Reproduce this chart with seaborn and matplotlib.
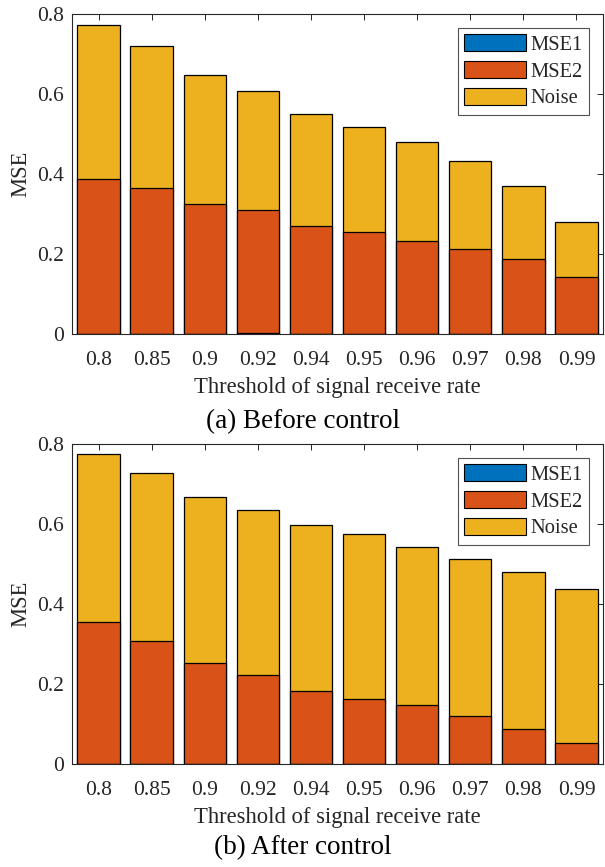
import matplotlib
matplotlib.use("Agg")
import matplotlib.pyplot as plt
from matplotlib.patches import Patch
import seaborn as sns
import pandas as pd
import numpy as np

# --- data ---
thresholds = ['0.8', '0.85', '0.9', '0.92', '0.94', '0.95', '0.96', '0.97', '0.98', '0.99']

before_mse1 = [0.001, 0.001, 0.001, 0.003, 0.001, 0.001, 0.001, 0.001, 0.001, 0.001]
before_mse2 = [0.387, 0.365, 0.323, 0.306, 0.270, 0.253, 0.231, 0.212, 0.186, 0.142]
before_noise = [0.385, 0.354, 0.324, 0.299, 0.279, 0.264, 0.247, 0.219, 0.182, 0.136]

after_mse1 = [0.001, 0.001, 0.001, 0.001, 0.001, 0.001, 0.001, 0.001, 0.001, 0.001]
after_mse2 = [0.355, 0.307, 0.251, 0.221, 0.182, 0.161, 0.147, 0.119, 0.087, 0.052]
after_noise = [0.419, 0.419, 0.416, 0.414, 0.414, 0.413, 0.394, 0.393, 0.391, 0.385]

series = ['MSE1', 'MSE2', 'Noise']
colors = {'MSE1': '#0072BD', 'MSE2': '#D95319', 'Noise': '#EDB120'}
captions = ['(a) Before control', '(b) After control']

# --- style ---
sns.set_style('white')
plt.rcParams['font.family'] = ['Liberation Serif', 'DejaVu Serif']
ink = '#262626'


def make_frame(mse1, mse2, noise):
    # cumulative tops so that overlapping bars look stacked
    c1 = np.array(mse1)
    c2 = c1 + np.array(mse2)
    c3 = c2 + np.array(noise)
    rows = []
    for name, vals in [('Noise', c3), ('MSE2', c2), ('MSE1', c1)]:
        for t, v in zip(thresholds, vals):
            rows.append({'Threshold': t, 'Series': name, 'Top': v})
    return pd.DataFrame(rows)


frames = [make_frame(before_mse1, before_mse2, before_noise),
          make_frame(after_mse1, after_mse2, after_noise)]

fig = plt.figure(figsize=(6.05, 8.67), dpi=100)
ax_boxes = [[72 / 605, 1 - 334 / 867, 531 / 605, 320 / 867],
            [72 / 605, 1 - 764 / 867, 531 / 605, 320 / 867]]
caption_y = [1 - 422 / 867, 1 - 848 / 867]

for k, df in enumerate(frames):
    ax = fig.add_axes(ax_boxes[k])
    for name in ['Noise', 'MSE2', 'MSE1']:
        sub = df[df['Series'] == name]
        sns.barplot(data=sub, x='Threshold', y='Top', order=thresholds,
                    color=colors[name], saturation=1, width=0.8,
                    edgecolor='black', linewidth=0.9, ax=ax)
    ax.set_xlim(-0.5, 9.5)
    ax.set_ylim(0, 0.8)
    ax.set_yticks([0, 0.2, 0.4, 0.6, 0.8])
    ax.set_yticklabels(['0', '0.2', '0.4', '0.6', '0.8'])
    ax.set_xlabel('Threshold of signal receive rate', fontsize=16.3,
                  color=ink, labelpad=4.5)
    ax.set_ylabel('MSE', fontsize=16.3, color=ink, labelpad=4)
    ax.tick_params(axis='both', direction='in', length=4, width=0.7,
                   colors=ink, labelsize=15.5, top=True, right=True)
    ax.tick_params(axis='x', pad=12.5)
    ax.tick_params(axis='y', pad=6)
    for sp in ax.spines.values():
        sp.set_visible(True)
        sp.set_color(ink)
        sp.set_linewidth(0.8)

    handles = [Patch(facecolor=colors[s], edgecolor='black', linewidth=0.8,
                     label=s) for s in series]
    leg = ax.legend(handles=handles, loc='upper right', fontsize=14.8,
                    frameon=True, fancybox=False, edgecolor=ink,
                    handlelength=3.0, handleheight=0.9, handletextpad=0.25,
                    labelspacing=0.3, borderpad=0.3, borderaxespad=0,
                    bbox_to_anchor=(0.974, 0.956))
    leg.get_frame().set_linewidth(0.8)

    fig.text(0.5, caption_y[k], captions[k], ha='center', va='center',
             fontsize=19.5, color='black')

fig.savefig('out.png', dpi=100)
